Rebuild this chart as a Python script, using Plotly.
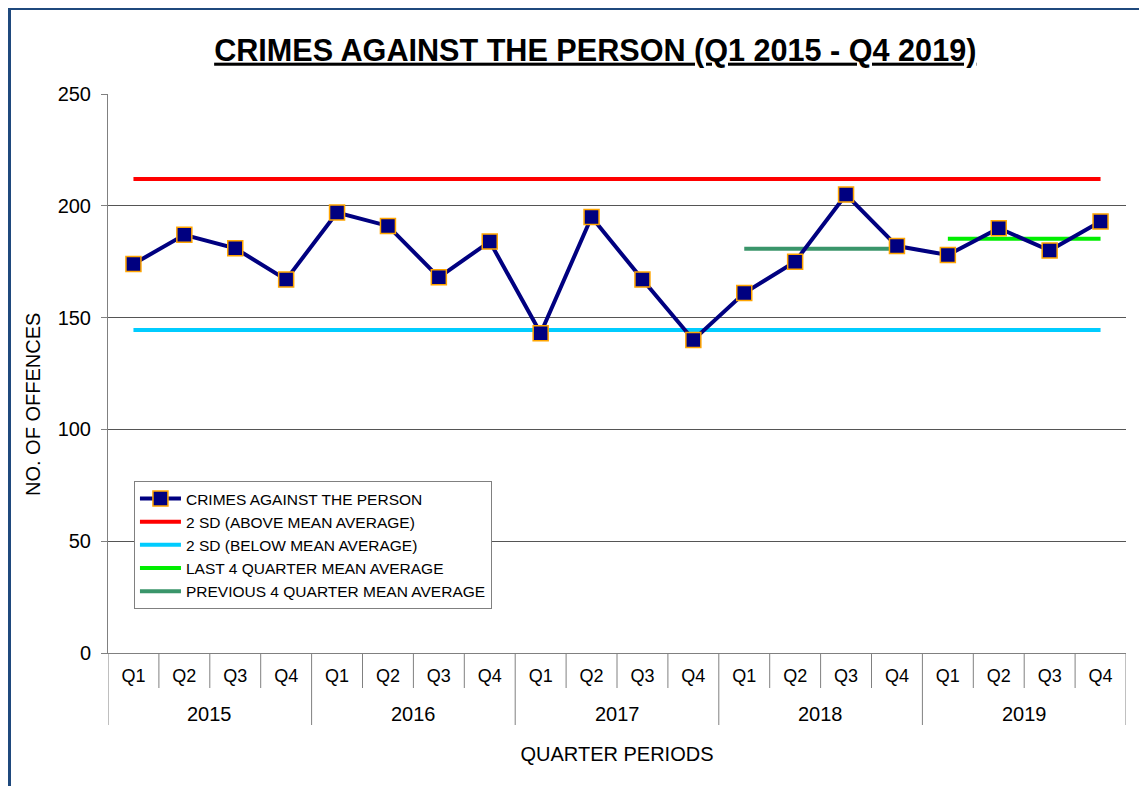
import plotly.graph_objects as go

# quarterly data
years = ["2015"] * 4 + ["2016"] * 4 + ["2017"] * 4 + ["2018"] * 4 + ["2019"] * 4
quarters = ["Q1", "Q2", "Q3", "Q4"] * 5
offences = [174, 187, 181, 167, 197, 191, 168, 184, 143, 195,
            167, 140, 161, 175, 205, 182, 178, 190, 180, 193]

upper_2sd = [212] * 20
lower_2sd = [144.5] * 20
last4_mean = [None] * 16 + [185.25] * 4
prev4_mean = [None] * 12 + [180.75] * 4 + [None] * 4

periods = [y + " " + q for y, q in zip(years, quarters)]

fig = go.Figure()

fig.add_trace(go.Scatter(x=periods, y=upper_2sd, mode='lines', name="2 SD (ABOVE MEAN AVERAGE)",
                         line=dict(color="#FF0000", width=4)))
fig.add_trace(go.Scatter(x=periods, y=lower_2sd, mode='lines', name="2 SD (BELOW MEAN AVERAGE)",
                         line=dict(color="#00CCFF", width=4)))
fig.add_trace(go.Scatter(x=periods, y=last4_mean, mode='lines', name="LAST 4 QUARTER MEAN AVERAGE",
                         line=dict(color="#00EE00", width=4)))
fig.add_trace(go.Scatter(x=periods, y=prev4_mean, mode='lines', name="PREVIOUS 4 QUARTER MEAN AVERAGE",
                         line=dict(color="#3A956A", width=4)))
fig.add_trace(go.Scatter(x=periods, y=offences, mode='lines+markers', name="CRIMES AGAINST THE PERSON",
                         line=dict(color="#000080", width=4),
                         marker=dict(symbol="square", size=15, color="#000080",
                                     line=dict(color="#FFA500", width=1.5)),
                         legendrank=1))

# the page has an 8px body margin, so margins are shifted by that
fig.update_layout(
    title=dict(text="<b><u>CRIMES AGAINST THE PERSON (Q1 2015 - Q4 2019)</u></b>",
               x=0.512, xanchor="center", y=0.9466, yanchor="middle",
               font=dict(size=30.6, color="black")),
    width=1147, height=786,
    margin=dict(l=100, r=29, t=86, b=141),
    paper_bgcolor="white", plot_bgcolor="white",
    font=dict(family="Liberation Sans, Arial", size=18, color="black"),
    showlegend=True,
    legend=dict(x=0.0255, y=0.3077, xanchor="left", yanchor="top",
                bgcolor="white", bordercolor="#808080", borderwidth=1,
                font=dict(size=15.5), traceorder="normal", itemwidth=41),
    xaxis=dict(type="category", range=[-0.5, 19.5], showline=True, linecolor="#808080", linewidth=1,
               tickvals=periods, ticktext=quarters, ticks="", ticklabelstandoff=6,
               showgrid=False,
               title=dict(text="QUARTER PERIODS", font=dict(size=20), standoff=62)),
    yaxis=dict(range=[0, 250], dtick=50, showline=True, linecolor="#808080", linewidth=1,
               ticks="outside", ticklen=6, tickcolor="#808080", ticklabelstandoff=6,
               tickfont=dict(size=20),
               showgrid=True, gridcolor="#555555", gridwidth=1, zeroline=False),
)

# y axis title sits a little below the middle of the plot in the original
fig.add_annotation(text="NO. OF OFFENCES", textangle=-90, showarrow=False,
                   xref="paper", yref="paper", x=(25 - 100) / 1018, y=(645 - 397) / 559,
                   xanchor="center", yanchor="middle", font=dict(size=20))

# quarter separators and year dividers under the axis
for i in range(len(periods) + 1):
    edge = i - 0.5
    deep = i % 4 == 0
    fig.add_shape(type="line", xref="x", yref="paper", x0=edge, x1=edge,
                  y0=0, y1=(-72 if deep else -35) / 559,
                  line=dict(color="#808080", width=1))

# year labels centred under each group of four quarters
for k in range(0, len(years), 4):
    fig.add_annotation(x=k + 1.5, xref="x", y=0, yref="paper", yshift=-61,
                       text=years[k], showarrow=False, font=dict(size=20),
                       yanchor="middle")

# dark blue frame at top/left
fig.add_shape(type="rect", xref="paper", yref="paper",
              x0=(1.5 - 100) / 1018, x1=(1300 - 100) / 1018,
              y0=(645 - 900) / 559, y1=(645 - 0.5) / 559,
              line=dict(color="#1F497D", width=3), fillcolor="rgba(0,0,0,0)", layer="above")

fig.write_html("out.html")
